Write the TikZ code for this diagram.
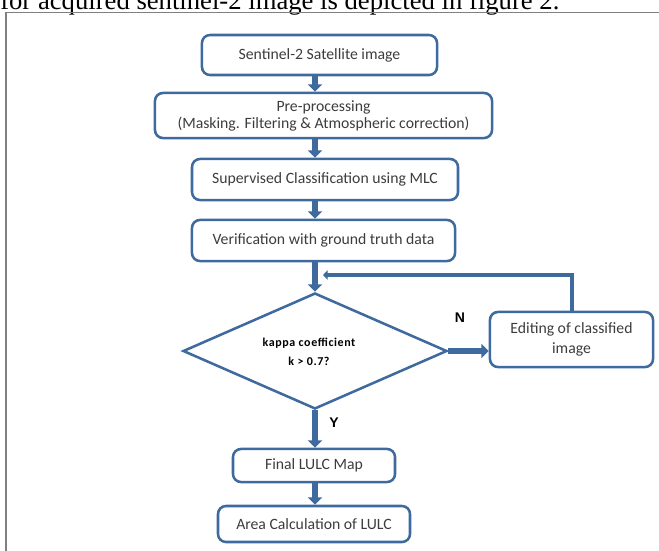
\documentclass[tikz,border=0pt]{standalone}
\usepackage{fontspec}
\setmainfont{Carlito}
\newfontfamily\pagefont{Liberation Serif}
\newfontfamily\labelfont{Liberation Sans}
\newfontfamily\kappafont[LetterSpace=5]{Carlito}
\usepackage{tikz}
\usetikzlibrary{
	arrows.meta,
	shapes.geometric,
	positioning
}
\definecolor{BoxBlue}{RGB}{62,106,158}
\definecolor{TextGray}{RGB}{60,60,60}

\begin{document}
\begin{tikzpicture}[x=0.75pt, y=-0.75pt,
		stepbox/.style={draw=BoxBlue, line width=1.9pt, rounded corners=6pt, text=TextGray, align=center, inner sep=0pt, font=\fontsize{11.8pt}{13pt}\selectfont},
		decision/.style={diamond, draw=BoxBlue, line width=1.9pt, inner sep=0pt},
		flow/.style={BoxBlue, line width=4pt, -{Triangle[width=10.5pt,length=5.5pt]}},
		backflow/.style={BoxBlue, line width=3pt, -{Triangle[width=7pt,length=3.5pt]}},
		answer/.style={font=\labelfont\bfseries\fontsize{10.5pt}{12pt}\selectfont}
	]
		\useasboundingbox (0,0) rectangle (659,550);
		% page text and frame
		\node[anchor=base west, inner sep=0pt, font=\pagefont\fontsize{20pt}{24pt}\selectfont] (caption) at (0,9.5) {for acquired sentinel-2 image is depicted in figure 2.};
		\draw[gray, line width=1pt] (6,570) -- (6,12.5) -- (680,12.5);
		% steps
		\node[stepbox, minimum width=176.3pt, minimum height=30pt] (sat) at (319.5,55) {Sentinel-2 Satellite image};
		\node[stepbox, minimum width=252.8pt, minimum height=33.8pt, font=\fontsize{11.8pt}{12.8pt}\selectfont] (pre) at (323.5,115.5) {Pre-processing\\(Masking. Filtering \& Atmospheric correction)};
		\node[stepbox, minimum width=199.5pt, minimum height=30.8pt] (sup) at (325,179.5) {Supervised Classification using MLC};
		\node[stepbox, minimum width=197.3pt, minimum height=30.8pt] (ver) at (323.5,240.5) {Verification with ground truth data};
		\node[decision, minimum width=198pt, minimum height=87pt] (kappa) at (315,351) {};
		\node[align=center, inner sep=0pt, font=\kappafont\bfseries\fontsize{9pt}{14pt}\selectfont] (kappatext) at (309,352) {kappa coefficient\\k > 0.7?};
		\node[stepbox, minimum width=122.3pt, minimum height=41.3pt, font=\fontsize{11.8pt}{15.5pt}\selectfont] (edit) at (571.5,339.5) {Editing of classified\\image};
		\node[stepbox, minimum width=121.5pt, minimum height=24.8pt] (lulc) at (314,465.5) {Final LULC Map};
		\node[stepbox, minimum width=144pt, minimum height=27pt] (area) at (314,524) {Area Calculation of LULC};
		% answers
		\node[answer] (no) at (460,318) {N};
		\node[answer] (yes) at (334,423) {Y};
		% connectors
		\draw[flow] (sat.south -| kappa.north) -- (pre.north -| kappa.north);
		\draw[flow] (pre.south -| kappa.north) -- (sup.north -| kappa.north);
		\draw[flow] (sup.south -| kappa.north) -- (ver.north -| kappa.north);
		\draw[flow] (ver.south -| kappa.north) -- (kappa.north);
		\draw[flow] (kappa.east) -- (kappa.east -| edit.west);
		\draw[flow] (kappa.south) -- (lulc.north -| kappa.south);
		\draw[flow] (lulc.south -| kappa.south) -- (area.north -| kappa.south);
		\coordinate (back) at (323,275);
		\draw[backflow] (edit.north) |- (back);
	\end{tikzpicture}
\end{document}
